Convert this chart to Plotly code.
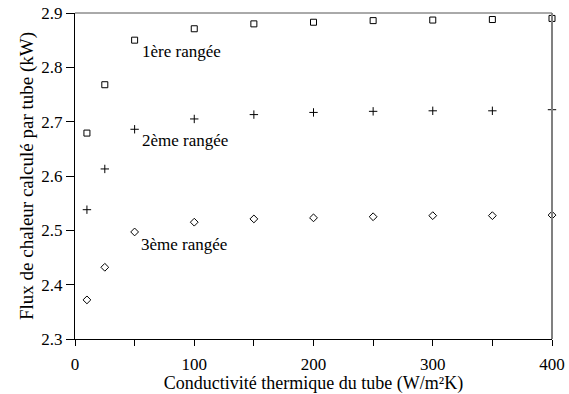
import plotly.graph_objects as go

conductivity = [10, 25, 50, 100, 150, 200, 250, 300, 350, 400]
row1 = [2.679, 2.768, 2.850, 2.871, 2.880, 2.883, 2.886, 2.887, 2.888, 2.890]
row2 = [2.538, 2.613, 2.686, 2.705, 2.713, 2.717, 2.719, 2.720, 2.720, 2.722]
row3 = [2.372, 2.432, 2.497, 2.515, 2.521, 2.523, 2.525, 2.527, 2.527, 2.528]

x_ticks = [0, 50, 100, 150, 200, 250, 300, 350, 400]
x_ticktext = ["0", "", "100", "", "200", "", "300", "", "400"]
y_ticks = [2.3, 2.4, 2.5, 2.6, 2.7, 2.8, 2.9]

labels = [
    ("1ère rangée", 54.5, 2.829),
    ("2ème rangée", 54.5, 2.666),
    ("3ème rangée", 53.7, 2.474),
]

FONT = "Liberation Serif"

fig = go.Figure()
fig.add_trace(go.Scatter(x=conductivity, y=row1, mode="markers", cliponaxis=False,
                         marker=dict(symbol="square-open", size=6, color="black",
                                     line=dict(color="black", width=1))))
fig.add_trace(go.Scatter(x=conductivity, y=row2, mode="markers", cliponaxis=False,
                         marker=dict(symbol="cross-thin", size=6, color="black",
                                     line=dict(color="black", width=1))))
fig.add_trace(go.Scatter(x=conductivity, y=row3, mode="markers", cliponaxis=False,
                         marker=dict(symbol="diamond-open", size=6, color="black",
                                     line=dict(color="black", width=1))))

for text, xv, yv in labels:
    fig.add_annotation(x=xv, y=yv, text=text, showarrow=False, xanchor="left",
                       yanchor="middle", font=dict(family=FONT, size=17, color="black"))

# top and right frame lines
fig.add_shape(type="line", xref="paper", yref="paper", x0=0, x1=1, y0=1, y1=1,
              line=dict(color="#555555", width=1))
fig.add_shape(type="line", xref="paper", yref="paper", x0=1, x1=1, y0=0, y1=1,
              line=dict(color="#808080", width=2))

fig.update_layout(
    width=569, height=394,
    margin=dict(l=75, r=17, t=13, b=55, autoexpand=False),
    paper_bgcolor="white", plot_bgcolor="white",
    showlegend=False,
    font=dict(family=FONT, size=17, color="black"),
    xaxis=dict(range=[0, 400], tickvals=x_ticks, ticktext=x_ticktext,
               ticks="outside", ticklen=6, tickcolor="black", showgrid=False,
               zeroline=False, showline=True, linecolor="black", linewidth=1,
               ticklabelstandoff=4, automargin=False,
               tickfont=dict(family=FONT, size=17, color="black"),
               title=dict(text="Conductivité thermique du tube (W/m²K)",
                          font=dict(family=FONT, size=18, color="black"), standoff=4)),
    yaxis=dict(range=[2.3, 2.9], tickvals=y_ticks, tickformat=".1f",
               ticks="outside", ticklen=8, tickcolor="black", showgrid=False,
               zeroline=False, showline=True, linecolor="black", linewidth=1,
               automargin=False,
               tickfont=dict(family=FONT, size=17, color="black"),
               title=dict(text="Flux de chaleur calculé par tube (kW)",
                          font=dict(family=FONT, size=19, color="black"), standoff=2)),
)

fig.write_html("out.html")
